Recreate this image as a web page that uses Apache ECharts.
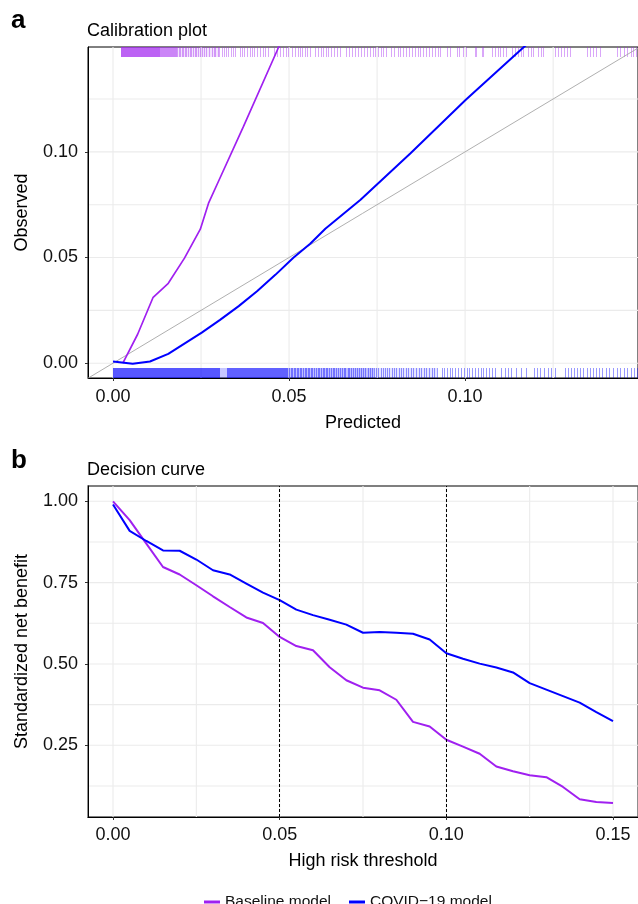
<!DOCTYPE html>
<html><head><meta charset="utf-8">
<script src="https://cdn.jsdelivr.net/npm/echarts@6/dist/echarts.min.js"></script>
<style>html,body{margin:0;padding:0;background:#fff}#c{width:638px;height:904px}</style>
</head><body><div id="c"></div>
<script>
// ---------- Panel a: calibration ----------
const calBaselineX = [0.0028, 0.0070, 0.0114, 0.0157, 0.0203, 0.0248, 0.0272, 0.0300, 0.0370, 0.0469, 0.0485];
const calBaselineY = [0.0000, 0.0137, 0.0312, 0.0378, 0.0497, 0.0634, 0.0760, 0.0862, 0.1118, 0.1490, 0.1548];
const calCovidX = [0.0000, 0.0056, 0.0105, 0.0157, 0.0205, 0.0252, 0.0304, 0.0357, 0.0409, 0.0461, 0.0513, 0.0560, 0.0603, 0.0703, 0.0845, 0.1002, 0.1163, 0.1200];
const calCovidY = [0.0008, -0.0003, 0.0008, 0.0044, 0.0095, 0.0145, 0.0205, 0.0270, 0.0340, 0.0418, 0.0500, 0.0565, 0.0636, 0.0773, 0.0993, 0.1246, 0.1490, 0.1545];
const identityLine = [-0.01, 0.16];
const calTicksX = [0, 0.05, 0.10];
const calTicksY = [0, 0.05, 0.10];
const calGridX = [0, 0.025, 0.05, 0.075, 0.10, 0.125];
const calGridY = [0, 0.025, 0.05, 0.075, 0.10, 0.125];
// rug: dense bands [start, end, shade] and single ticks
const baselineRugBands = [[0.0023, 0.0134, 0.70], [0.0134, 0.0182, 0.55], [0.0182, 0.0300, 0.12]];
const baselineRugTicks = [0.0183, 0.0187, 0.0191, 0.0195, 0.0199, 0.0204, 0.0208, 0.0213, 0.0218, 0.0222, 0.0227, 0.0232, 0.0236, 0.0241, 0.0247, 0.0252, 0.0258, 0.0263, 0.0274, 0.0280, 0.0286, 0.0291, 0.0297, 0.0302, 0.0309, 0.0315, 0.0321, 0.0328, 0.0335, 0.0340, 0.0347, 0.0360, 0.0366, 0.0373, 0.0381, 0.0388, 0.0395, 0.0401, 0.0410, 0.0418, 0.0425, 0.0432, 0.0441, 0.0456, 0.0465, 0.0473, 0.0482, 0.0490, 0.0498, 0.0507, 0.0516, 0.0524, 0.0531, 0.0538, 0.0545, 0.0552, 0.0560, 0.0575, 0.0582, 0.0590, 0.0597, 0.0605, 0.0612, 0.0620, 0.0628, 0.0636, 0.0645, 0.0662, 0.0670, 0.0678, 0.0687, 0.0695, 0.0703, 0.0712, 0.0720, 0.0729, 0.0738, 0.0745, 0.0752, 0.0760, 0.0768, 0.0776, 0.0790, 0.0798, 0.0808, 0.0815, 0.0823, 0.0831, 0.0840, 0.0850, 0.0858, 0.0866, 0.0873, 0.0881, 0.0890, 0.0898, 0.0906, 0.0914, 0.0922, 0.0929, 0.0948, 0.0956, 0.0976, 0.0984, 0.0993, 0.1002, 0.1027, 0.1031, 0.1047, 0.1051, 0.1076, 0.1084, 0.1092, 0.1100, 0.1108, 0.1115, 0.1133, 0.1141, 0.1150, 0.1158, 0.1165, 0.1178, 0.1186, 0.1193, 0.1207, 0.1215, 0.1222, 0.1255, 0.1263, 0.1271, 0.1280, 0.1289, 0.1297, 0.1346, 0.1355, 0.1364, 0.1372, 0.1382, 0.1432, 0.1440, 0.1450, 0.1460, 0.1470, 0.1478, 0.1486];
const covidRugBands = [[0.0000, 0.0305, 0.66], [0.0305, 0.0325, 0.22], [0.0325, 0.0498, 0.62], [0.0498, 0.0740, 0.25], [0.0740, 0.0920, 0.10]];
const covidRugTicks = [0.0501, 0.0505, 0.0509, 0.0513, 0.0517, 0.0522, 0.0526, 0.0530, 0.0535, 0.0539, 0.0544, 0.0548, 0.0553, 0.0557, 0.0562, 0.0566, 0.0571, 0.0576, 0.0581, 0.0585, 0.0590, 0.0595, 0.0600, 0.0604, 0.0609, 0.0614, 0.0619, 0.0624, 0.0629, 0.0634, 0.0639, 0.0644, 0.0650, 0.0655, 0.0660, 0.0666, 0.0671, 0.0677, 0.0682, 0.0688, 0.0694, 0.0700, 0.0705, 0.0711, 0.0717, 0.0723, 0.0729, 0.0735, 0.0741, 0.0747, 0.0753, 0.0760, 0.0766, 0.0772, 0.0779, 0.0785, 0.0792, 0.0798, 0.0805, 0.0812, 0.0818, 0.0825, 0.0832, 0.0839, 0.0846, 0.0853, 0.0860, 0.0868, 0.0875, 0.0882, 0.0890, 0.0897, 0.0905, 0.0912, 0.0920, 0.0933, 0.0940, 0.0948, 0.0956, 0.0964, 0.0972, 0.0980, 0.0988, 0.0996, 0.1004, 0.1012, 0.1020, 0.1028, 0.1036, 0.1044, 0.1052, 0.1060, 0.1068, 0.1077, 0.1086, 0.1103, 0.1112, 0.1121, 0.1130, 0.1145, 0.1160, 0.1172, 0.1196, 0.1205, 0.1214, 0.1224, 0.1234, 0.1245, 0.1256, 0.1283, 0.1292, 0.1301, 0.1310, 0.1318, 0.1327, 0.1336, 0.1345, 0.1354, 0.1363, 0.1372, 0.1381, 0.1390, 0.1400, 0.1410, 0.1420, 0.1430, 0.1440, 0.1450, 0.1460, 0.1470, 0.1480, 0.1488];

// ---------- Panel b: decision curve ----------
const dcThreshold = [0, 0.005, 0.01, 0.015, 0.02, 0.025, 0.03, 0.035, 0.04, 0.045, 0.05, 0.055, 0.06, 0.065, 0.07, 0.075, 0.08, 0.085, 0.09, 0.095, 0.10, 0.105, 0.11, 0.115, 0.12, 0.125, 0.13, 0.135, 0.14, 0.145, 0.15];
const dcBaseline = [1.00, 0.942, 0.870, 0.798, 0.775, 0.742, 0.708, 0.675, 0.643, 0.626, 0.583, 0.555, 0.542, 0.490, 0.450, 0.427, 0.419, 0.390, 0.322, 0.308, 0.267, 0.246, 0.224, 0.185, 0.170, 0.158, 0.152, 0.122, 0.084, 0.076, 0.073];
const dcCovid = [0.990, 0.909, 0.878, 0.849, 0.848, 0.821, 0.788, 0.775, 0.747, 0.719, 0.696, 0.667, 0.650, 0.636, 0.621, 0.596, 0.598, 0.596, 0.593, 0.575, 0.533, 0.516, 0.501, 0.489, 0.474, 0.441, 0.421, 0.401, 0.381, 0.352, 0.324];
const dcMarkers = [0.05, 0.10];
const dcTicksX = [0, 0.05, 0.10, 0.15];
const dcTicksY = [0.25, 0.50, 0.75, 1.00];
const dcGridX = [0, 0.025, 0.05, 0.075, 0.10, 0.125, 0.15];
const dcGridY = [0.125, 0.25, 0.375, 0.50, 0.625, 0.75, 0.875, 1.00];

const seriesNames = ['Baseline model', 'COVID\u221219 model'];
const PURPLE = '#A020F0', BLUE = '#0000FF';
const FONT = '"Liberation Sans", Arial, Helvetica, sans-serif';

const chart = echarts.init(document.getElementById('c'), null, {renderer: 'canvas'});

function gridLines(gi, values, dir) {
  return {
    type: 'custom', xAxisIndex: gi, yAxisIndex: gi, silent: true, z: 0,
    data: values,
    renderItem(params, api) {
      const cs = params.coordSys; const v = api.value(0);
      if (dir === 'v') {
        const x = api.coord([v, 0])[0];
        return {type: 'line', shape: {x1: x, y1: cs.y, x2: x, y2: cs.y + cs.height}, style: {stroke: '#ebebeb', lineWidth: 1.1}};
      }
      const y = api.coord([0, v])[1];
      return {type: 'line', shape: {x1: cs.x, y1: y, x2: cs.x + cs.width, y2: y}, style: {stroke: '#ebebeb', lineWidth: 1.1}};
    }
  };
}
function rugTicks(values, color, atTop, alpha) {
  return {
    type: 'custom', xAxisIndex: 0, yAxisIndex: 0, silent: true, z: 1,
    data: values,
    renderItem(params, api) {
      const cs = params.coordSys; const x = Math.round(api.coord([api.value(0), 0])[0]);
      const y0 = atTop ? cs.y : cs.y + cs.height - 10;
      return {type: 'rect', shape: {x: x, y: y0, width: 1, height: 10}, style: {fill: color, opacity: alpha}};
    }
  };
}
function rugBands(bands, color, atTop) {
  return {
    type: 'custom', xAxisIndex: 0, yAxisIndex: 0, silent: true, z: 1,
    data: bands,
    renderItem(params, api) {
      const cs = params.coordSys;
      const x1 = Math.round(api.coord([api.value(0), 0])[0]), x2 = Math.round(api.coord([api.value(1), 0])[0]);
      const y0 = atTop ? cs.y : cs.y + cs.height - 10;
      return {type: 'rect', shape: {x: x1, y: y0, width: x2 - x1, height: 10}, style: {fill: color, opacity: api.value(2)}};
    }
  };
}

const lbl = {fontSize: 18, color: '#111', fontFamily: FONT};
function xAxis(gi, min, max, ticks, name, gap, margin) {
  return {gridIndex: gi, type: 'value', min, max, name, nameLocation: 'middle', nameGap: gap,
    nameTextStyle: {fontSize: 18, color: '#000', fontFamily: FONT},
    splitLine: {show: false},
    axisLine: {show: true, onZero: false, lineStyle: {color: '#000', width: 1}},
    axisTick: {show: true, customValues: ticks, length: 3, lineStyle: {color: '#333'}},
    axisLabel: Object.assign({customValues: ticks, margin, formatter: v => v.toFixed(2)}, lbl)};
}
function yAxis(gi, min, max, ticks, name, gap) {
  return {gridIndex: gi, type: 'value', min, max, name, nameLocation: 'middle', nameGap: gap,
    nameTextStyle: {fontSize: 18, color: '#000', fontFamily: FONT},
    splitLine: {show: false},
    axisLine: {show: true, onZero: false, lineStyle: {color: '#000', width: 1}},
    axisTick: {show: true, customValues: ticks, length: 3, lineStyle: {color: '#333'}},
    axisLabel: Object.assign({customValues: ticks, margin: 10, formatter: v => v.toFixed(2)}, lbl)};
}

const zip = (xs, ys) => xs.map((x, i) => [x, ys[i]]);

const option = {
  animation: false,
  backgroundColor: '#fff',
  textStyle: {fontFamily: FONT},
  grid: [
    {left: 88, top: 47, width: 550, height: 331, show: true, borderColor: '#000', borderWidth: 1, backgroundColor: 'transparent'},
    {left: 88, top: 486, width: 550, height: 331, show: true, borderColor: '#555', borderWidth: 1.3, backgroundColor: 'transparent'}
  ],
  xAxis: [
    xAxis(0, -0.0071, 0.1491, calTicksX, 'Predicted', 36, 10),
    xAxis(1, -0.0075, 0.1575, dcTicksX, 'High risk threshold', 35, 9)
  ],
  yAxis: [
    yAxis(0, -0.007, 0.1496, calTicksY, 'Observed', 57),
    yAxis(1, 0.0296, 1.047, dcTicksY, 'Standardized net benefit', 57)
  ],
  legend: {
    data: seriesNames, left: 199, top: 889, icon: 'rect', itemWidth: 16, itemHeight: 3, itemGap: 18,
    textStyle: {fontSize: 15.5, color: '#111', fontFamily: FONT}
  },
  graphic: [
    {type: 'text', left: 11, top: 8, style: {text: 'a', font: 'bold 26px ' + FONT, fill: '#000'}},
    {type: 'text', left: 87, top: 22, style: {text: 'Calibration plot', font: '18px ' + FONT, fill: '#000'}},
    {type: 'text', left: 11, top: 448, style: {text: 'b', font: 'bold 26px ' + FONT, fill: '#000'}},
    {type: 'text', left: 87, top: 461, style: {text: 'Decision curve', font: '18px ' + FONT, fill: '#000'}}
  ],
  series: [
    gridLines(0, calGridX, 'v'), gridLines(0, calGridY, 'h'),
    gridLines(1, dcGridX, 'v'), gridLines(1, dcGridY, 'h'),
    rugBands(baselineRugBands, PURPLE, true), rugTicks(baselineRugTicks, PURPLE, true, 0.4),
    rugBands(covidRugBands, BLUE, false), rugTicks(covidRugTicks, BLUE, false, 0.4),
    {type: 'line', name: 'identity', xAxisIndex: 0, yAxisIndex: 0, data: zip(identityLine, identityLine), showSymbol: false, silent: true, z: 2,
      lineStyle: {color: '#a6a6a6', width: 0.9}},
    {type: 'line', name: seriesNames[0], xAxisIndex: 0, yAxisIndex: 0, data: zip(calBaselineX, calBaselineY), showSymbol: false, z: 3,
      itemStyle: {color: PURPLE}, lineStyle: {color: PURPLE, width: 1.7}},
    {type: 'line', name: seriesNames[1], xAxisIndex: 0, yAxisIndex: 0, data: zip(calCovidX, calCovidY), showSymbol: false, z: 3,
      itemStyle: {color: BLUE}, lineStyle: {color: BLUE, width: 2}},
    {type: 'line', name: seriesNames[0], xAxisIndex: 1, yAxisIndex: 1, data: zip(dcThreshold, dcBaseline), showSymbol: false, z: 3,
      itemStyle: {color: PURPLE}, lineStyle: {color: PURPLE, width: 2}},
    {type: 'line', name: seriesNames[1], xAxisIndex: 1, yAxisIndex: 1, data: zip(dcThreshold, dcCovid), showSymbol: false, z: 3,
      itemStyle: {color: BLUE}, lineStyle: {color: BLUE, width: 2},
      markLine: {silent: true, symbol: 'none', label: {show: false}, animation: false,
        lineStyle: {color: '#000', width: 1, type: [3, 2]},
        data: dcMarkers.map(v => ({xAxis: v}))}}
  ]
};
chart.setOption(option);
</script></body></html>
